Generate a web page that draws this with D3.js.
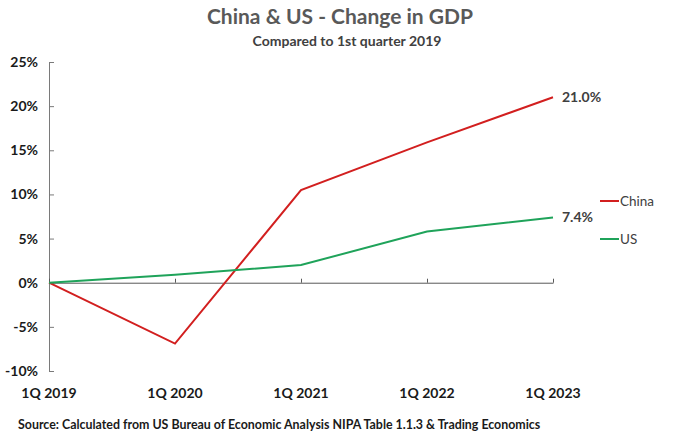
<!DOCTYPE html>
<html><head><meta charset="utf-8">
<script src="https://cdn.jsdelivr.net/npm/d3@7"></script>
<style>body{margin:0;background:#fff}svg{display:block;font-family:Lato,"Open Sans",sans-serif}</style>
</head><body>
<svg id="c" width="680" height="444"></svg>
<script>
const categories = ["1Q 2019","1Q 2020","1Q 2021","1Q 2022","1Q 2023"];
const china = [0, -6.9, 10.5, 15.9, 21.0];
const us = [0, 0.9, 2.0, 5.8, 7.4];
const yTicks = [-10,-5,0,5,10,15,20,25];
const seriesNames = ["China","US"];
const colors = {China:"#d21f1f", US:"#1fa35a"};

const svg = d3.select("#c");
const x = d3.scalePoint().domain(categories).range([49,553]);
const y = d3.scaleLinear().domain([-10,25]).range([371,62]);

svg.append("text").attr("x",340).attr("y",24).attr("text-anchor","middle")
  .attr("font-size",21).attr("font-weight",700).attr("fill","#595959").text("China & US - Change in GDP");
svg.append("text").attr("x",347).attr("y",46).attr("text-anchor","middle")
  .attr("font-size",14).attr("font-weight",700).attr("fill","#404040").text("Compared to 1st quarter 2019");

// y axis (ticks pointing inward)
const ya = svg.append("g").attr("transform","translate(49,0)")
  .call(d3.axisLeft(y).tickValues(yTicks).tickSize(-5).tickSizeOuter(0).tickPadding(11).tickFormat(d=>d+"%"));
ya.select(".domain").attr("stroke","#7a7a7a");
ya.selectAll(".tick line").attr("stroke","#7a7a7a");
ya.selectAll(".tick text").attr("font-size",14).attr("font-weight",700).attr("fill","#1a1a1a").attr("font-family","Lato,sans-serif");

// x axis at 0 (ticks pointing up)
const xa = svg.append("g").attr("transform",`translate(0,${y(0)})`)
  .call(d3.axisBottom(x).tickSize(-4).tickSizeOuter(0).tickFormat(""));
xa.select(".domain").attr("stroke","#595959");
xa.selectAll(".tick line").attr("stroke","#595959");
// x labels at bottom
svg.append("g").selectAll("text").data(categories).join("text")
  .attr("x",d=>x(d)).attr("y",398).attr("text-anchor","middle")
  .attr("font-size",14).attr("font-weight",700).attr("fill","#1a1a1a").text(d=>d);

const line = d3.line().x((d,i)=>x(categories[i])).y(d=>y(d));
[["China",china],["US",us]].forEach(([n,v])=>{
  svg.append("path").datum(v).attr("d",line).attr("fill","none")
    .attr("stroke",colors[n]).attr("stroke-width",2);
  const last = v[v.length-1];
  svg.append("text").attr("x",x(categories[4])+9).attr("y",y(last)+5)
    .attr("font-size",14).attr("font-weight",700).attr("fill","#404040").text(last.toFixed(1)+"%");
});

// legend
const lg = svg.append("g");
seriesNames.forEach((n,i)=>{
  const ly = 201 + i*38;
  lg.append("line").attr("x1",600).attr("x2",619).attr("y1",ly).attr("y2",ly).attr("stroke",colors[n]).attr("stroke-width",2);
  lg.append("text").attr("x",620).attr("y",ly+5).attr("font-size",13.5).attr("fill","#404040").text(n);
});

svg.append("text").attr("x",18).attr("y",429).attr("font-size",12.4).attr("font-weight",700).attr("fill","#1a1a1a")
  .text("Source: Calculated from US Bureau of Economic Analysis NIPA Table 1.1.3 & Trading Economics");
</script>
</body></html>
